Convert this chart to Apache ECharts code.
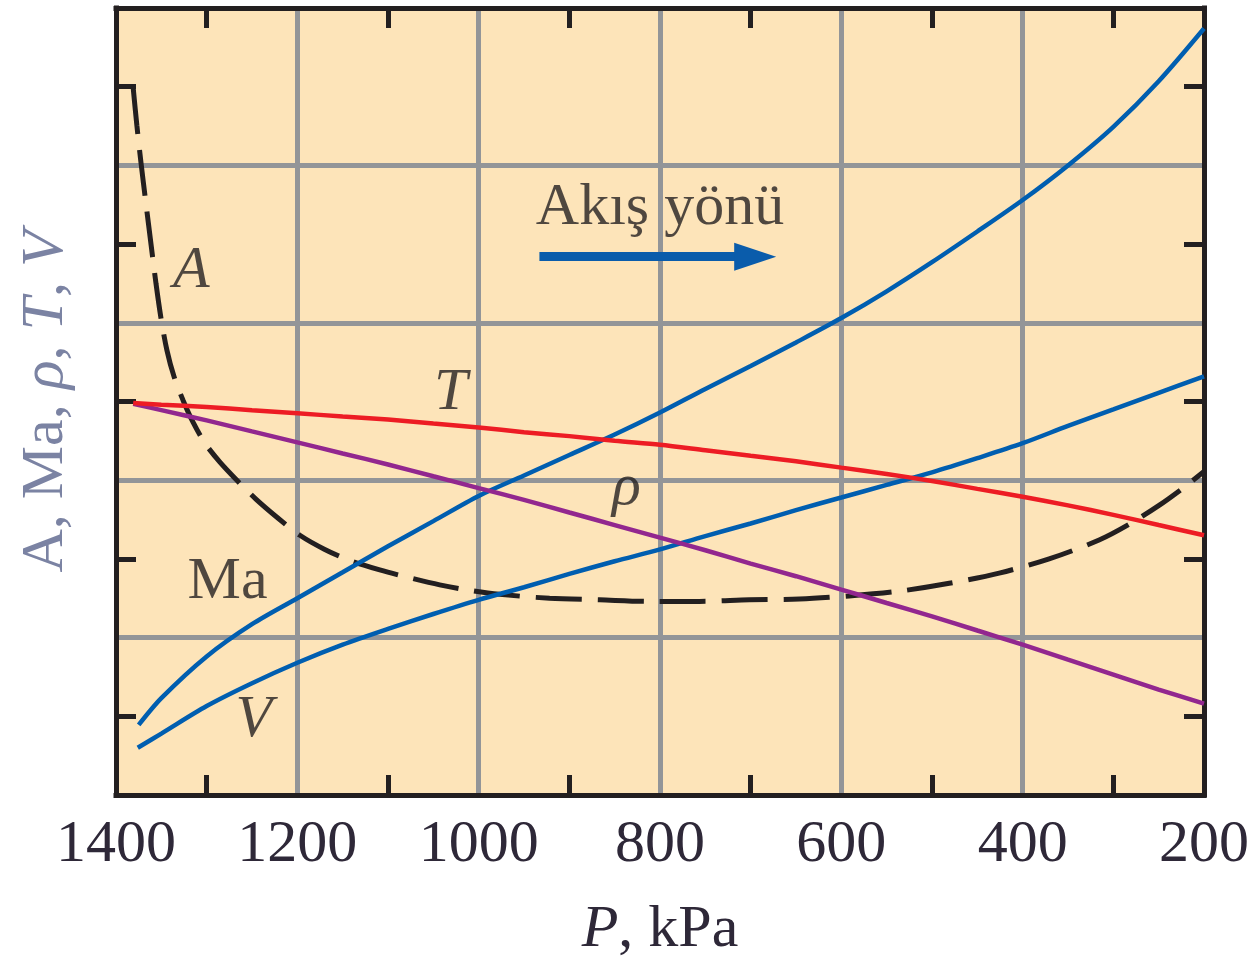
<!DOCTYPE html>
<html>
<head>
<meta charset="utf-8">
<script src="https://cdn.jsdelivr.net/npm/echarts@6/dist/echarts.min.js"></script>
<style>
html,body{margin:0;padding:0;background:#ffffff;}
#chart{width:1260px;height:960px;}
</style>
</head>
<body>
<div id="chart"></div>
<script>
// ---- data (P in kPa, curve values on a relative 0-10 scale) ----
const xTicks = [1400, 1200, 1000, 800, 600, 400, 200];
const yRange = [0, 10];

const areaPoints = [
  [1381, 8.98], [1377, 8.51], [1372.5, 8.04], [1367, 7.52], [1361.4, 7.00], [1355.9, 6.50],
  [1350.4, 6.06], [1343.8, 5.65], [1336.1, 5.32], [1326.2, 5.02], [1315.2, 4.74], [1301.9, 4.47],
  [1285.4, 4.23], [1266.7, 4.00], [1245.7, 3.76], [1221.5, 3.52], [1197.2, 3.30], [1169.7, 3.12],
  [1142.1, 2.98], [1109.1, 2.86], [1076, 2.76], [1043, 2.67], [1009.9, 2.60], [976.9, 2.55],
  [921.8, 2.50], [866.7, 2.48], [811.6, 2.46], [756.5, 2.46], [701.4, 2.48], [646.3, 2.49],
  [591.2, 2.53], [536.1, 2.59], [481, 2.69], [425.9, 2.82], [370.8, 3.00], [315.7, 3.24],
  [282.6, 3.44], [249.6, 3.68], [222, 3.91], [200, 4.11]
];
const machPoints = [
  [1375, 0.89], [1350, 1.23], [1300, 1.76], [1250, 2.17], [1200, 2.50], [1150, 2.83],
  [1100, 3.16], [1050, 3.48], [1000, 3.80], [950, 4.06], [900, 4.32], [850, 4.58],
  [800, 4.86], [750, 5.16], [700, 5.45], [650, 5.75], [600, 6.06], [550, 6.40],
  [500, 6.77], [450, 7.16], [400, 7.56], [350, 8.00], [300, 8.49], [250, 9.07], [200, 9.74]
];
const velocityPoints = [
  [1376, 0.60], [1350, 0.78], [1300, 1.13], [1250, 1.42], [1200, 1.68], [1150, 1.91],
  [1100, 2.11], [1050, 2.30], [1000, 2.48], [950, 2.64], [900, 2.81], [850, 2.97],
  [800, 3.12], [750, 3.29], [700, 3.45], [650, 3.62], [600, 3.78], [550, 3.94],
  [500, 4.10], [450, 4.28], [400, 4.47], [350, 4.69], [300, 4.90], [250, 5.11], [200, 5.32]
];
const densityPoints = [
  [1381, 4.97], [1350, 4.89], [1300, 4.76], [1250, 4.62], [1200, 4.48], [1150, 4.34],
  [1100, 4.20], [1050, 4.05], [1000, 3.90], [950, 3.75], [900, 3.59], [850, 3.43],
  [800, 3.27], [750, 3.11], [700, 2.94], [650, 2.78], [600, 2.61], [550, 2.44],
  [500, 2.27], [450, 2.09], [400, 1.91], [350, 1.72], [300, 1.53], [250, 1.34], [200, 1.16]
];
const temperaturePoints = [
  [1381, 4.98], [1350, 4.96], [1300, 4.93], [1250, 4.89], [1200, 4.85], [1150, 4.81],
  [1100, 4.77], [1050, 4.72], [1000, 4.67], [950, 4.61], [900, 4.56], [850, 4.50],
  [800, 4.45], [750, 4.38], [700, 4.31], [650, 4.24], [600, 4.16], [550, 4.08],
  [500, 3.99], [450, 3.89], [400, 3.79], [350, 3.68], [300, 3.56], [250, 3.43], [200, 3.30]
];

const labelTexts = ['A', 'T', 'ρ', 'Ma', 'V', 'Akış yönü'];
const labelCoords = [[1317, 6.65], [1031, 5.11], [837, 3.90], [1277, 2.70], [1248, 0.95], [800, 7.45]];
const arrowCoords = [[933, 6.84], [695, 6.84]];

// ---- styling ----
const serif = '"Liberation Serif", "DejaVu Serif", serif';
const frameColor = '#231f20';
const gridColor = '#939598';
const textColor = '#2e2838';
const italicSet = new Set(['A', 'T', 'ρ', 'V']);

const minorTick = { show: true, splitNumber: 2, length: 20, lineStyle: { color: frameColor, width: 5 } };
const frameLine = { show: true, onZero: false, lineStyle: { color: frameColor, width: 5, cap: 'square' } };

const labelData = labelTexts.map((t, i) => ({
  value: labelCoords[i],
  name: t,
  label: { fontStyle: italicSet.has(t) ? 'italic' : 'normal' }
}));

const chart = echarts.init(document.getElementById('chart'), null, { renderer: 'canvas' });
chart.setOption({
  animation: false,
  backgroundColor: '#ffffff',
  grid: {
    left: 116, right: 56, top: 8, bottom: 165,
    show: true, backgroundColor: '#fde4b9', borderWidth: 0,
    containLabel: false, outerBoundsMode: 'none'
  },
  xAxis: [
    {
      type: 'value', position: 'bottom', inverse: true,
      min: xTicks[xTicks.length - 1], max: xTicks[0], interval: 200,
      axisLine: frameLine,
      axisTick: { show: false, inside: true },
      minorTick: minorTick,
      splitLine: { show: true, showMinLine: false, showMaxLine: false, lineStyle: { color: gridColor, width: 5 } },
      axisLabel: { show: true, margin: 20, fontSize: 60, fontFamily: serif, color: textColor, formatter: v => String(v) },
      name: '{i|P}, kPa', nameLocation: 'middle', nameGap: 105,
      nameTextStyle: {
        fontSize: 60, fontFamily: serif, color: textColor,
        rich: { i: { fontStyle: 'italic', fontSize: 60, fontFamily: serif, color: textColor } }
      }
    },
    {
      type: 'value', position: 'top', inverse: true,
      min: xTicks[xTicks.length - 1], max: xTicks[0], interval: 200,
      axisLine: frameLine,
      axisTick: { show: false, inside: true },
      minorTick: minorTick,
      splitLine: { show: false },
      axisLabel: { show: false }
    }
  ],
  yAxis: [
    {
      type: 'value', position: 'left', min: yRange[0], max: yRange[1], interval: 2,
      axisLine: frameLine,
      axisTick: { show: false, inside: true },
      minorTick: minorTick,
      splitLine: { show: true, showMinLine: false, showMaxLine: false, lineStyle: { color: gridColor, width: 5 } },
      axisLabel: { show: false },
      name: 'A, Ma, {i|ρ}, {i|T}, {i|V}', nameLocation: 'middle', nameRotate: 90, nameGap: 40,
      nameTextStyle: {
        fontSize: 60, fontFamily: serif, color: '#7b83a3',
        rich: { i: { fontStyle: 'italic', fontSize: 60, fontFamily: serif, color: '#7b83a3' } }
      }
    },
    {
      type: 'value', position: 'right', min: yRange[0], max: yRange[1], interval: 2,
      axisLine: frameLine,
      axisTick: { show: false, inside: true },
      minorTick: minorTick,
      splitLine: { show: false },
      axisLabel: { show: false }
    }
  ],
  series: [
    {
      name: 'A', type: 'line', data: areaPoints, showSymbol: false, smooth: 0.3,
      lineStyle: { color: '#231f20', width: 5, type: [46, 16], cap: 'butt' }, z: 2, silent: true
    },
    {
      name: 'Ma', type: 'line', data: machPoints, showSymbol: false, smooth: 0.3,
      lineStyle: { color: '#005eb0', width: 4.5 }, z: 3, silent: true
    },
    {
      name: 'V', type: 'line', data: velocityPoints, showSymbol: false, smooth: 0.3,
      lineStyle: { color: '#005eb0', width: 4.5 }, z: 3, silent: true
    },
    {
      name: 'ρ', type: 'line', data: densityPoints, showSymbol: false, smooth: 0.3,
      lineStyle: { color: '#92278f', width: 4.5 }, z: 4, silent: true
    },
    {
      name: 'T', type: 'line', data: temperaturePoints, showSymbol: false, smooth: 0.3,
      lineStyle: { color: '#ed1c24', width: 4.5 }, z: 5, silent: true
    },
    {
      name: 'labels', type: 'scatter', data: labelData, symbolSize: 1,
      itemStyle: { color: 'rgba(0,0,0,0)' }, silent: true, z: 6,
      label: {
        show: true, position: 'inside', formatter: p => p.name,
        fontSize: 60, fontFamily: serif, color: '#231f20'
      },
      markLine: {
        silent: true, animation: false,
        symbol: ['none', 'triangle'], symbolSize: [28, 42],
        lineStyle: { color: '#0a5cab', width: 9, type: 'solid' },
        label: { show: false },
        emphasis: { disabled: true },
        data: [[{ coord: arrowCoords[0] }, { coord: arrowCoords[1] }]]
      }
    }
  ]
});
</script>
</body>
</html>
